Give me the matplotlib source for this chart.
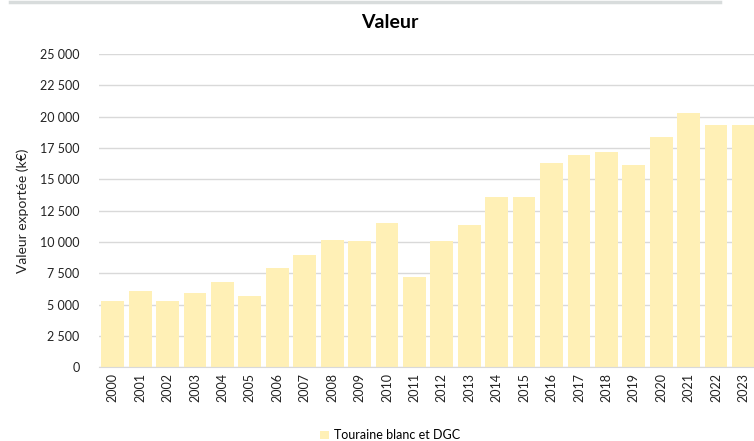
import matplotlib.pyplot as plt
from matplotlib.lines import Line2D
from matplotlib.ticker import FuncFormatter

# Données (valeur exportée, k€)
annees = list(range(2000, 2024))
valeurs = [5300, 6100, 5300, 5900, 6800, 5700, 7950, 8950, 10150, 10100,
           11500, 7200, 10100, 11350, 13600, 13600, 16300, 16950, 17200, 16100,
           18400, 20250, 19350, 19350]
serie = "Touraine blanc et DGC"

plt.rcParams['font.family'] = ['Lato', 'DejaVu Sans']

fig = plt.figure(figsize=(7.54, 4.41), dpi=100)
ax = fig.add_axes([0.1313, 0.167, 0.873, 0.711])

ax.bar(range(len(annees)), valeurs, width=0.83, color='#fff0b6', label=serie, zorder=2)
ax.set_xlim(-0.5, len(annees) - 0.5)
ax.set_ylim(0, 25000)
ax.set_yticks(range(0, 25001, 2500))
ax.yaxis.set_major_formatter(FuncFormatter(lambda v, p: f"{int(v):,}".replace(",", " ")))
ax.set_xticks(range(len(annees)))
ax.set_xticklabels([str(a) for a in annees], rotation=90)
ax.tick_params(axis='both', length=0, labelsize=9, colors='#222222')
ax.tick_params(axis='x', pad=4)
ax.tick_params(axis='y', pad=14)

ax.grid(axis='y', color='#d9d9d9', linewidth=1, zorder=0)
for s in ['top', 'right', 'left']:
    ax.spines[s].set_visible(False)
ax.spines['bottom'].set_color('#d9d9d9')

ax.set_ylabel("Valeur exportée (k€)", fontsize=10, color='#222222', labelpad=8)
fig.text(0.517, 0.948, "Valeur", ha='center', va='center', fontsize=14, fontweight='bold')

# ligne grise en haut
fig.add_artist(Line2D([0.013, 0.955], [0.995, 0.995], color='#d8dcdc', linewidth=2.5))

fig.legend(loc='center', bbox_to_anchor=(0.517, 0.013), frameon=False, fontsize=9,
           handlelength=0.7, handleheight=0.7, handletextpad=0.4)

fig.savefig("out.png", dpi=100)
